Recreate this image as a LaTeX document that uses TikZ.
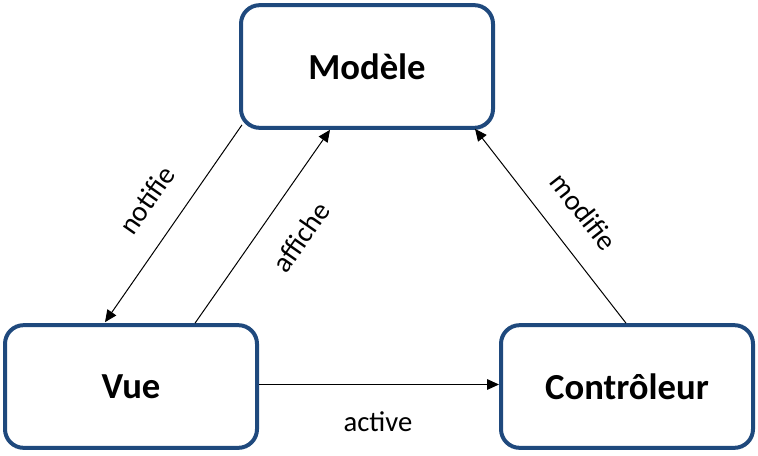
\documentclass[tikz,border=0pt]{standalone}
\usepackage{fontspec}
\setmainfont{Carlito}
\usetikzlibrary{arrows.meta,calc}
\definecolor{boxblue}{RGB}{31,73,125}

\begin{document}
\begin{tikzpicture}[x=0.75pt,y=0.75pt,
    box/.style={draw=boxblue, line width=3pt, rounded corners=14pt,
        minimum width=189pt, minimum height=92pt,
        font=\fontsize{27.5}{32}\selectfont\bfseries},
    link/.style={line width=0.75pt, -{Triangle[length=9pt,width=8pt]}},
    tag/.style={font=\fontsize{21.5}{25}\selectfont, inner sep=0pt}]

    % fix the size of the picture
    \useasboundingbox (0,0) rectangle (758,455);

    % Draw the three boxes
    \node[box] (Modele) at (367,388.5) {Modèle};
    \node[box] (Vue) at (131,68.5) {Vue};
    \node[box] (Controleur) at (627,68.5) {Contrôleur};

    % Draw the arrows between the boxes
    \draw[link] ($(Modele.south west)+(3,5)$) -- ($(Vue.north)+(-26,1)$);
    \draw[link] ($(Vue.north)+(64,0)$) -- ($(Modele.south)+(-37,0)$);
    \draw[link] ($(Controleur.north)+(-1,0)$) -- ($(Modele.south east)+(-20,1)$);
    \draw[link] ($(Vue.east)+(0,2)$) -- ($(Controleur.west)+(0,2)$);

    % Labels of the arrows
    \node[tag, rotate=55] (notifie) at (147,255) {notifie};
    \node[tag, rotate=55] (affiche) at (301,218) {affiche};
    \node[tag, rotate=-52] (modifie) at (584,243) {modifie};
    \node[tag] (active) at (378,33) {active};
\end{tikzpicture}
\end{document}
